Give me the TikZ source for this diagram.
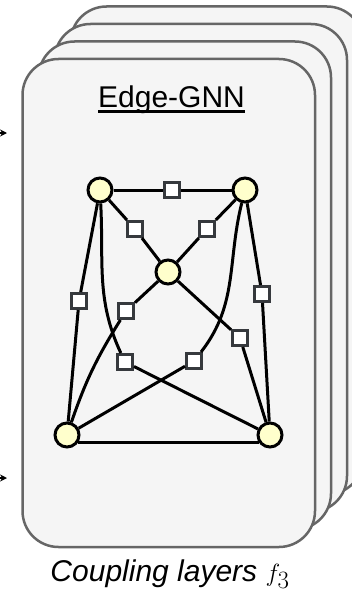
\documentclass[tikz,border=0pt]{standalone}
\usepackage{fontspec}
\setmainfont{Liberation Sans}
\usepackage{tikz}
\usetikzlibrary{arrows.meta}
\definecolor{layerFill}{HTML}{F5F5F5}
\definecolor{layerGray}{HTML}{666666}
\definecolor{vertexYellow}{HTML}{FFFFCC}
\definecolor{boxGray}{HTML}{36393D}
\tikzset{
  layer/.style={draw=layerGray, fill=layerFill, line width=2.5pt, rounded corners=36pt},
  vertex/.style={circle, draw=black, fill=vertexYellow, line width=3pt, minimum size=24pt, inner sep=0pt},
  edgeBox/.style={rectangle, draw=boxGray, fill=white, line width=3pt, minimum size=15pt, inner sep=0pt},
  link/.style={line width=3pt, black},
  arrow/.style={-{Stealth[length=7pt, width=7pt]}, line width=1.2pt}
}
\newcommand{\ulText}[1]{\setbox0\hbox{#1}\rlap{\rule[-5.5pt]{\wd0}{2.4pt}}\box0}

\begin{document}
\begin{tikzpicture}[x=1pt, y=1pt, font=\fontsize{30}{34}\selectfont]
  \useasboundingbox (0,0) rectangle (352,-594);
  % stacked coupling layers
  \draw[layer] (70.5,-6.5) rectangle (363,-494.5);
  \draw[layer] (54.5,-24) rectangle (347,-512);
  \draw[layer] (38.5,-41.5) rectangle (331,-529.5);
  \draw[layer] (22.5,-59) rectangle (315,-547);
  % incoming arrows
  \coordinate (inUpper) at (-20,-133);
  \coordinate (inUpperTip) at (7,-133);
  \coordinate (inLower) at (-20,-478);
  \coordinate (inLowerTip) at (7,-478);
  \draw[arrow] (inUpper) -- (inUpperTip);
  \draw[arrow] (inLower) -- (inLowerTip);
  \node[anchor=base] (title) at (171.5,-107) {\ulText{Edge-GNN}};
  % graph
  \node[vertex] (A) at (100,-190) {};
  \node[vertex] (B) at (245,-190) {};
  \node[vertex] (C) at (168,-272) {};
  \node[vertex] (D) at (67,-435) {};
  \node[vertex] (E) at (270,-435) {};
  \node[edgeBox] (sAB) at (172,-190) {};
  \node[edgeBox] (sAC) at (135,-229) {};
  \node[edgeBox] (sBC) at (207,-229) {};
  \node[edgeBox] (sAD) at (79,-301) {};
  \node[edgeBox] (sBE) at (262,-294) {};
  \node[edgeBox] (sCD) at (126,-311) {};
  \node[edgeBox] (sCE) at (240,-338) {};
  \node[edgeBox] (sAE) at (125,-362) {};
  \node[edgeBox] (sBD) at (194,-361) {};
  \draw[link] (A) -- (sAB) -- (B);
  \draw[link] (A) -- (sAC) -- (C);
  \draw[link] (B) -- (sBC) -- (C);
  \draw[link] (A) -- (sAD) -- (D);
  \draw[link] (B) -- (sBE) -- (E);
  \draw[link] (C) -- (sCD);
  \draw[link] (sCD) to[out=238, in=71] (D);
  \draw[link] (C) -- (sCE) -- (E);
  \draw[link] (A) to[out=-87, in=115] (sAE);
  \draw[link] (sAE) -- (E);
  \draw[link] (B) to[out=-104, in=52] (sBD);
  \draw[link] (sBD) -- (D);
  \draw[link] (D.-35) -- (E.-145);
  \node[anchor=base] (caption) at (170,-581) {\itshape Coupling layers {\fontsize{35}{38}\selectfont$f_3$}};
\end{tikzpicture}
\end{document}
